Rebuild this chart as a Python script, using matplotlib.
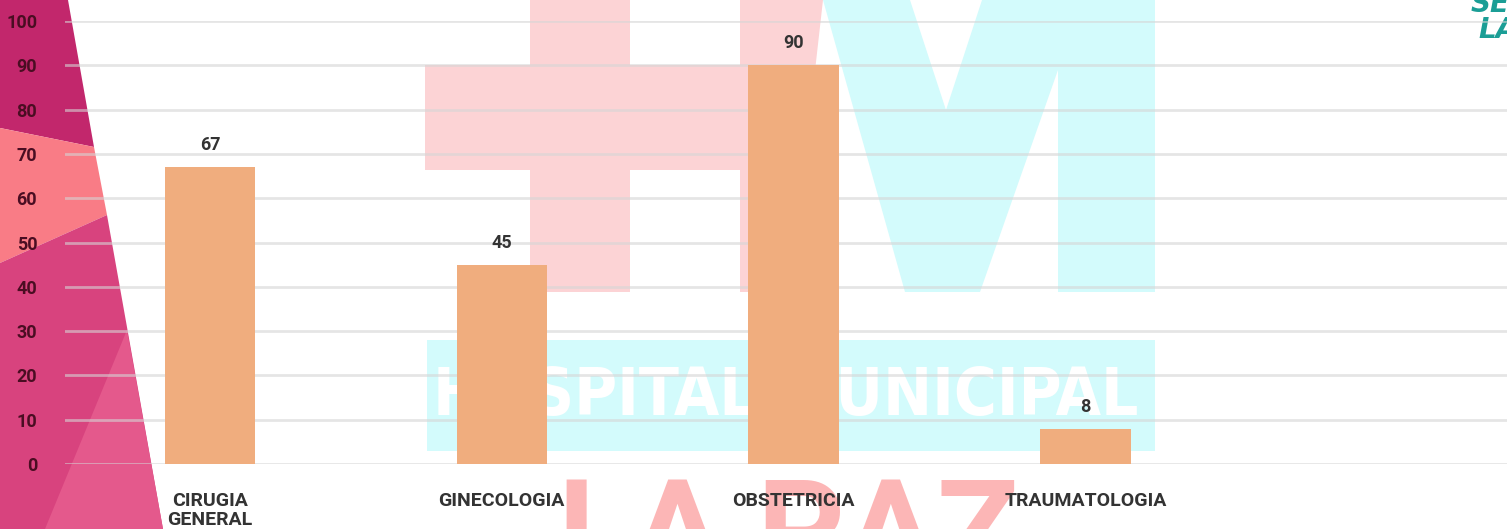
import matplotlib
matplotlib.use("Agg")
import matplotlib.pyplot as plt
from matplotlib.patches import Polygon

# Datos del grafico
categorias = ["CIRUGIA\nGENERAL", "GINECOLOGIA", "OBSTETRICIA", "TRAUMATOLOGIA"]
valores = [67, 45, 90, 8]
ticks_y = [0, 10, 20, 30, 40, 50, 60, 70, 80, 90, 100]

W, H = 1507, 529
fuente = ["Roboto", "DejaVu Sans"]

fig = plt.figure(figsize=(W / 100, H / 100), dpi=100)
fig.patch.set_facecolor("white")

def px(pts):  # pixeles (origen arriba) -> fraccion de figura
    return [(x / W, 1 - y / H) for x, y in pts]

def forma(pts, color):
    fig.patches.append(Polygon(px(pts), closed=True, transform=fig.transFigure,
                               facecolor=color, edgecolor="none", zorder=-1))

# Franja decorativa rosa a la izquierda
forma([(0, 0), (68, 0), (94, 147), (0, 128)], "#c2276c")
forma([(0, 128), (94, 147), (107, 215), (0, 263)], "#f97c86")
forma([(0, 263), (107, 215), (163, 529), (0, 529)], "#d8437e")
forma([(127, 330), (163, 529), (45, 529)], "#e4598c")

# Marca de agua (cruz, M, rectangulo)
forma([(530, 0), (630, 0), (630, 292), (530, 292)], "#fcd3d5")
forma([(425, 65), (745, 65), (745, 170), (425, 170)], "#fcd3d5")
forma([(740, 0), (823, 0), (790, 292), (740, 292)], "#fcd3d5")
forma([(823, 0), (910, 0), (946, 110), (982, 0), (1155, 0), (1155, 292),
       (1058, 292), (1058, 70), (980, 292), (905, 292)], "#d3fbfc")
forma([(427, 340), (1155, 340), (1155, 451), (427, 451)], "#d3fbfc")
fig.text(786 / W, 1 - 397 / H, "HOSPITAL MUNICIPAL", family="DejaVu Sans",
         stretch="condensed", fontweight="bold", fontsize=47, color="white",
         ha="center", va="center", zorder=-0.5)
fig.text(789 / W, 1 - 474 / H, "LA PAZ", family=fuente, fontweight="bold",
         fontsize=98, color="#fcb6b6", ha="center", va="top", zorder=-0.5)
fig.text(1471 / W, 1 - 12 / H, "SE", family="DejaVu Sans", fontsize=20,
         fontweight="bold", style="italic", color="#1b9e96", ha="left", va="baseline",
         zorder=-0.5)
fig.text(1478 / W, 1 - 38 / H, "LA", family="DejaVu Sans", fontsize=20,
         fontweight="bold", style="italic", color="#1b9e96", ha="left", va="baseline",
         zorder=-0.5)

# Grafico de barras
ax = fig.add_axes([65 / W, 1 - 464 / H, 1 - 65 / W, (464 - 21) / H])
ax.patch.set_alpha(0)
x = list(range(len(categorias)))
barras = ax.bar(x, valores, width=0.31, color="#f0ad7e", zorder=3)
for b, v in zip(barras, valores):
    ax.text(b.get_x() + b.get_width() / 2, v + 2.9, str(v), ha="center", va="bottom",
            family=fuente, fontsize=13, fontweight="bold", color="#333333")

ax.set_ylim(0, 100)
ax.set_xlim(-0.497, 4.445)
ax.set_yticks(ticks_y)
ax.set_xticks(x)
ax.set_xticklabels(categorias, family=fuente, fontsize=14, fontweight="bold",
                   color="#333333", va="top", linespacing=1.1)
for t in ax.get_yticklabels():
    t.set_family(fuente)
    t.set_fontsize(13)
    t.set_fontweight("bold")
    t.set_color("#4a0d22")
ax.tick_params(axis="y", length=0, pad=20)
ax.tick_params(axis="x", length=0, pad=20)
ax.grid(axis="y", color="#d5d5d5", alpha=0.6, linewidth=2, zorder=1)
ax.set_axisbelow(True)
for s in ax.spines.values():
    s.set_visible(False)

fig.savefig("out.png", dpi=100)
